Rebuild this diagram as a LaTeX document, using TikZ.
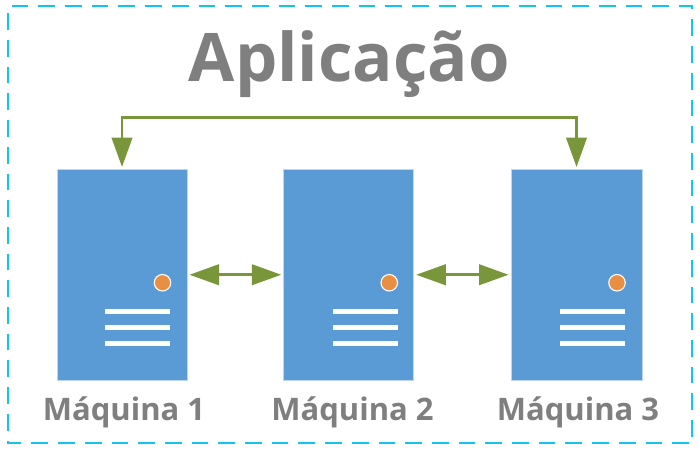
\documentclass[tikz,border=0pt]{standalone}
\usepackage{fontspec}
\setmainfont{Open Sans}
\usetikzlibrary{arrows.meta,calc}
\definecolor{boxblue}{HTML}{5B9BD5}
\definecolor{edgeblue}{HTML}{BDD7EE}
\definecolor{dot}{HTML}{E98F43}
\definecolor{olive}{HTML}{7A963A}
\definecolor{txtgray}{HTML}{7F7F7F}
\definecolor{frame}{HTML}{12C3F4}
\tikzset{
  x=1pt,y=-1pt,
  server/.style={draw=edgeblue,line width=0.6pt,fill=boxblue,minimum width=130pt,minimum height=210.5pt,inner sep=0pt,outer sep=0pt},
  led/.style={circle,draw=white,line width=1.1pt,fill=dot,minimum size=16.5pt,inner sep=0pt},
  bar/.style={fill=white,minimum width=65pt,minimum height=5pt,inner sep=0pt,outer sep=0pt},
  label/.style={text=txtgray,font=\fontsize{31}{34}\selectfont\bfseries,anchor=base,inner sep=0pt},
  link/.style={draw=olive,line width=2.6pt},
  bothtips/.style={{Triangle[width=20.5pt,length=29.5pt,fill=olive]}-{Triangle[width=20.5pt,length=29.5pt,fill=olive]},shorten <=2.5pt,shorten >=2.5pt},
}
\begin{document}
\begin{tikzpicture}
\useasboundingbox (0,0) rectangle (700,452);
\fill[white] (0,0) rectangle (700,452);
\coordinate (fa) at (7.5,6);
\coordinate (fb) at (692.3,6);
\coordinate (fc) at (692.3,443.3);
\coordinate (fd) at (7.5,443.3);
\draw[frame,line width=2pt,dash pattern=on 16.7pt off 10pt,dash phase=22.6pt] (fa) -- (fb) -- (fc) -- (fd) -- cycle;
\node[text=txtgray,font=\fontsize{67}{74}\selectfont\bfseries,anchor=base,inner sep=0pt] (title) at (349.3,81) {Aplicação};
\node[server] (m1) at (122,274.75) {};
\node[server] (m2) at (348.75,274.75) {};
\node[server,minimum width=131pt] (m3) at (576.5,274.75) {};
\foreach \n/\o in {1/15.5,2/16.25,3/16}{
  \node[led] (d\n) at ($(m\n.center)+(40.5,8)$) {};
  \node[bar] (ba\n) at ($(m\n.center)+(\o,36.5)$) {};
  \node[bar] (bb\n) at ($(m\n.center)+(\o,52.5)$) {};
  \node[bar] (bc\n) at ($(m\n.center)+(\o,68.5)$) {};
}
\node[label] (l1) at (124,420) {Máquina 1};
\node[label] (l2) at (352.5,420) {Máquina 2};
\node[label] (l3) at (578,420) {Máquina 3};
\coordinate (up) at (0,117.5);
\draw[link,bothtips] (m1.east) -- (m2.west);
\draw[link,bothtips] (m2.east) -- (m3.west);
\draw[link,bothtips] (m1.north) -- (m1.north |- up) -- (m3.north |- up) -- (m3.north);
\end{tikzpicture}
\end{document}
